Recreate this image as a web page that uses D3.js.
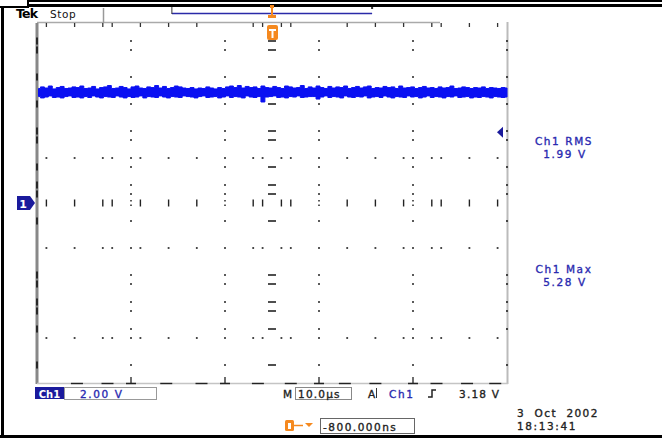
<!DOCTYPE html>
<html><head><meta charset="utf-8">
<script src="https://cdn.jsdelivr.net/npm/d3@7"></script>
<style>
html,body{margin:0;padding:0;background:#fff;}
svg{display:block;}
text{font-family:"DejaVu Sans",sans-serif;}
</style></head>
<body>
<script>
// ---- data ----
const voltsPerDiv = 2.0;
const timePerDiv = "10.0\u00b5s";
const traceTop = [
5.09,5.16,5.11,5.2,5.07,5.13,5.18,5.09,5.11,5.16,
5.13,5.2,5.09,5.11,5.18,5.07,5.13,5.16,5.22,5.09,
5.11,5.18,5.13,5.07,5.16,5.2,5.11,5.09,5.16,5.13,
5.22,5.11,5.18,5.09,5.13,5.2,5.16,5.11,5.09,5.13,
5.07,5.11,5.09,5.16,5.11,5.07,5.13,5.09,5.16,5.2,
5.13,5.22,5.11,5.18,5.13,5.16,5.09,5.2,5.13,5.11,
5.18,5.13,5.09,5.2,5.16,5.11,5.13,5.22,5.09,5.16,
5.11,5.2,5.13,5.09,5.18,5.11,5.16,5.13,5.2,5.09,
5.13,5.18,5.11,5.16,5.2,5.09,5.13,5.11,5.18,5.13,
5.16,5.09,5.2,5.11,5.13,5.16,5.09,5.13,5.18,5.11,
5.13,5.09,5.16,5.11,5.13,5.2,5.09,5.11,5.16,5.13,
5.09,5.13,5.11,5.16,5.09,5.13,5.11,5.09,5.13,5.11];
const traceBottom = [
4.73,4.67,4.71,4.76,4.69,4.71,4.67,4.73,4.76,4.69,
4.71,4.67,4.73,4.69,4.76,4.71,4.67,4.73,4.71,4.69,
4.76,4.71,4.67,4.73,4.69,4.71,4.76,4.67,4.73,4.71,
4.69,4.76,4.71,4.67,4.73,4.71,4.69,4.76,4.73,4.71,
4.67,4.73,4.76,4.69,4.71,4.73,4.67,4.71,4.76,4.69,
4.73,4.71,4.67,4.76,4.71,4.69,4.73,4.49,4.71,4.73,
4.76,4.69,4.71,4.67,4.73,4.71,4.76,4.69,4.71,4.73,
4.73,4.62,4.71,4.76,4.69,4.73,4.71,4.67,4.76,4.71,
4.69,4.73,4.71,4.76,4.67,4.71,4.73,4.69,4.76,4.71,
4.67,4.73,4.71,4.69,4.76,4.71,4.73,4.67,4.71,4.76,
4.69,4.73,4.71,4.67,4.73,4.71,4.76,4.69,4.71,4.73,
4.67,4.71,4.69,4.73,4.71,4.67,4.73,4.71,4.69,4.71];
// graticule marks visible in the (down-sampled) screen, in 1/5-division steps
const visibleMinorX = [1,4,7,8,11,14,17,23,24,26,27,33,36,39,42,43,46,49];
const visibleMinorY = [2,3,6,9,12,13,16,18,19,22,28,29,31,32,34,38];
const dottedColumns = [2,4,6,8];
const dottedRows = [3,5,7];
const bottomDashes = [0.85,1.5,2.75,3.5,4.7,5.4,6.55,7.2,8.5,9.15,9.75];
const bottomTicks = [2,4,6,8];
const measurements = [
  {label:"Ch1 RMS", value:"1.99 V"},
  {label:"Ch1 Max", value:"5.28 V"}
];
const headerText = {brand:"Tek", state:"Stop"};
const chLabel = "Ch1", chScale = "2.00 V";
const trigText = {src:"Ch1", level:"3.18 V"};
const delayText = "-800.000ns";
const dateText = "3  Oct  2002", timeText = "18:13:41";

// ---- layout ----
const W = 662, H = 438;
const x = d3.scaleLinear().domain([0,10]).range([37,507]);
const y = d3.scaleLinear().domain([-4*voltsPerDiv, 4*voltsPerDiv]).range([383,23]);
const yDiv = d3.scaleLinear().domain([0,8]).range([23,383]);
const mx = i => x(i/5), my = i => yDiv(i/5);

const svg = d3.select("body").append("svg").attr("width",W).attr("height",H);

// outer screenshot frame
svg.append("rect").attr("x",28).attr("y",0).attr("width",W-28).attr("height",2).attr("fill","#000");
svg.append("rect").attr("x",28).attr("y",4).attr("width",W-28).attr("height",3).attr("fill","#000");
svg.append("rect").attr("x",27).attr("y",0).attr("width",2).attr("height",8).attr("fill","#000");
svg.append("rect").attr("x",0).attr("y",6).attr("width",29).attr("height",2).attr("fill","#000");
svg.append("rect").attr("x",1).attr("y",6).attr("width",3).attr("height",H-6).attr("fill","#000");
svg.append("rect").attr("x",0).attr("y",435).attr("width",W).attr("height",3).attr("fill","#000");

// header
svg.append("line").attr("x1",37).attr("x2",440).attr("y1",22.5).attr("y2",22.5).attr("stroke","#aaa").attr("stroke-width",1.5);
svg.append("line").attr("x1",103.5).attr("x2",103.5).attr("y1",8).attr("y2",23).attr("stroke","#999").attr("stroke-width",1.5);
svg.append("text").attr("x",16).attr("y",18).attr("font-size",12.5).attr("font-weight","bold").attr("letter-spacing",-0.8).text(headerText.brand);
svg.append("text").attr("x",50).attr("y",18).attr("font-size",10.5).attr("letter-spacing",0.6).attr("fill","#111").text(headerText.state);
// record bar
svg.append("line").attr("x1",x(2.87)).attr("x2",x(7.13)).attr("y1",13.5).attr("y2",13.5).attr("stroke","#2a2aa8").attr("stroke-width",1.6);
svg.append("line").attr("x1",x(2.87)).attr("x2",x(2.87)).attr("y1",7).attr("y2",14).attr("stroke","#333").attr("stroke-width",1);
svg.append("rect").attr("x",x(7.13)-1).attr("y",7).attr("width",2).attr("height",2).attr("fill","#333");
// trigger position markers (orange)
const orange = "#f5891f";
const tx = x(5);
svg.append("path").attr("d",`M${tx-2},5 h4 v3 h-1 v10 h-2 v-10 h-1 z`).attr("fill",orange);
svg.append("path").attr("d",`M${tx-4},15 h8 v3 h-8 z`).attr("fill",orange);
svg.append("rect").attr("x",tx-5).attr("y",25).attr("width",11).attr("height",15).attr("rx",2).attr("fill",orange);
svg.append("path").attr("d",`M${tx-3},29 h7 v2 h-2.5 v7 h-2 v-7 h-2.5 z`).attr("fill","#fff");

// graticule frame
const g = svg.append("g");
g.append("line").attr("x1",37).attr("x2",37).attr("y1",23).attr("y2",384).attr("stroke","#888").attr("stroke-width",3);
g.append("line").attr("x1",507.5).attr("x2",507.5).attr("y1",22).attr("y2",384).attr("stroke","#bbb").attr("stroke-width",2);
g.append("line").attr("x1",37).attr("x2",508).attr("y1",383.5).attr("y2",383.5).attr("stroke","#c4c4c4").attr("stroke-width",1.5);

// left edge dashes
g.selectAll(".ld").data(visibleMinorY).join("line")
  .attr("x1",37).attr("x2",37).attr("y1",d=>my(d)-3.5).attr("y2",d=>my(d)+3.5)
  .attr("stroke","#111").attr("stroke-width",1.6);
// top edge ticks
g.selectAll(".tt").data(visibleMinorX).join("line")
  .attr("x1",d=>mx(d)).attr("x2",d=>mx(d)).attr("y1",23).attr("y2",27)
  .attr("stroke","#333").attr("stroke-width",1.3);
// bottom edge dashes and ticks
g.selectAll(".bd").data(bottomDashes).join("line")
  .attr("x1",d=>x(d)-6).attr("x2",d=>x(d)+6).attr("y1",383.5).attr("y2",383.5)
  .attr("stroke","#222").attr("stroke-width",1.4);
g.selectAll(".bt").data(bottomTicks).join("path")
  .attr("d",d=>`M${x(d)-5},383.5 H${x(d)+5} M${x(d)},377 V383.5`)
  .attr("stroke","#222").attr("stroke-width",1.3).attr("fill","none");
// right edge dots
g.selectAll(".rd").data(visibleMinorY).join("rect")
  .attr("x",506).attr("y",d=>my(d)-1).attr("width",2).attr("height",2).attr("fill","#444");

// dotted columns
dottedColumns.forEach(c=>{
  g.selectAll(null).data(visibleMinorY).join("rect")
    .attr("x",x(c)-0.9).attr("y",d=>my(d)-0.9).attr("width",1.8).attr("height",1.8).attr("fill","#333");
  g.selectAll(null).data(dottedRows).join("rect")
    .attr("x",x(c)-0.9).attr("y",d=>yDiv(d)-0.9).attr("width",1.8).attr("height",1.8).attr("fill","#333");
});
// dotted rows
dottedRows.forEach(r=>{
  g.selectAll(null).data(visibleMinorX).join("rect")
    .attr("x",d=>mx(d)-0.9).attr("y",yDiv(r)-0.9).attr("width",1.8).attr("height",1.8).attr("fill","#333");
});
// center horizontal axis ticks
g.selectAll(".ch").data(visibleMinorX).join("line")
  .attr("x1",d=>mx(d)).attr("x2",d=>mx(d)).attr("y1",y(0)-3.5).attr("y2",y(0)+3.5)
  .attr("stroke","#222").attr("stroke-width",1.4);
g.selectAll(".chd").data(dottedColumns).join("path")
  .attr("d",d=>`M${x(d)},${y(0)-3}v1.6M${x(d)},${y(0)+1.5}v1.6`)
  .attr("stroke","#333").attr("stroke-width",1.6);
// center vertical axis dashes
g.selectAll(".cv").data(visibleMinorY).join("line")
  .attr("x1",x(5)-4).attr("x2",x(5)+4).attr("y1",d=>my(d)).attr("y2",d=>my(d))
  .attr("stroke","#222").attr("stroke-width",1.6);

// trace band
const n = traceTop.length;
const tX = d3.scaleLinear().domain([0,n-1]).range([x(0)+1.5,x(10)]);
const area = d3.area().x((d,i)=>tX(i)).y0((d,i)=>y(traceBottom[i])).y1(d=>y(d)).curve(d3.curveStep);
svg.append("path").datum(traceTop).attr("d",area).attr("fill","#0a10f2").attr("stroke","#0a10f2").attr("stroke-width",1);

// ground marker
svg.append("path").attr("d",`M17,${y(0)-7} h13 l5,7 l-5,7 h-13 z`).attr("fill","#1a1a9c");
svg.append("text").attr("x",23).attr("y",y(0)+4.5).attr("text-anchor","middle").attr("font-size",11).attr("font-weight","bold").attr("fill","#fff").text("1");

// measurement marker
svg.append("path").attr("d",`M497,${y(3.15)} l6,-5.5 v11 z`).attr("fill","#1a1a9c");

// measurements
const txt = (sel,col)=>sel.attr("font-size",10.5).attr("letter-spacing",1.6).attr("fill",col).attr("stroke",col).attr("stroke-width",0.35);
const mY = [145, 273];
const blue = "#2a2ab0", dark = "#222";
measurements.forEach((m,i)=>{
  txt(svg.append("text"),blue).attr("x",564).attr("y",mY[i]).attr("text-anchor","middle").text(m.label);
  txt(svg.append("text"),blue).attr("x",565).attr("y",mY[i]+13).attr("text-anchor","middle").text(m.value);
});

// bottom status
svg.append("rect").attr("x",35).attr("y",387).attr("width",29).attr("height",12).attr("fill","#1a1a9c");
svg.append("text").attr("x",49.5).attr("y",397.5).attr("text-anchor","middle").attr("font-size",10).attr("font-weight","bold").attr("fill","#fff").text(chLabel);
svg.append("rect").attr("x",64.5).attr("y",387.5).attr("width",92).attr("height",12).attr("fill","none").attr("stroke","#999").attr("stroke-width",1);
txt(svg.append("text"),blue).attr("x",80).attr("y",397.5).text(chScale);

txt(svg.append("text"),dark).attr("x",283).attr("y",397.5).attr("letter-spacing",0).text("M");
svg.append("rect").attr("x",295.5).attr("y",387.5).attr("width",56).attr("height",12).attr("fill","none").attr("stroke","#888").attr("stroke-width",1);
txt(svg.append("text"),dark).attr("x",298).attr("y",397.5).attr("letter-spacing",1.2).text(timePerDiv);
txt(svg.append("text"),dark).attr("x",368).attr("y",397.5).text("A");
svg.append("line").attr("x1",376.5).attr("x2",376.5).attr("y1",388).attr("y2",398).attr("stroke","#333").attr("stroke-width",1);
txt(svg.append("text"),blue).attr("x",389).attr("y",397.5).text(trigText.src);
svg.append("path").attr("d","M428,397 h4 v-7 h4").attr("fill","none").attr("stroke","#222").attr("stroke-width",1.5);
txt(svg.append("text"),dark).attr("x",459).attr("y",397.5).attr("letter-spacing",1.2).text(trigText.level);

// delay
svg.append("rect").attr("x",285).attr("y",420).attr("width",9).attr("height",11).attr("rx",1.5).attr("fill",orange);
svg.append("path").attr("d","M288,423 h3 v6 h-3 z").attr("fill","#fff");
svg.append("line").attr("x1",294).attr("x2",303).attr("y1",425.5).attr("y2",425.5).attr("stroke",orange).attr("stroke-width",1.5);
svg.append("path").attr("d","M305,423 h8 l-4,4 z").attr("fill",orange);
svg.append("rect").attr("x",320.5).attr("y",418.5).attr("width",94).attr("height",15).attr("fill","none").attr("stroke","#666").attr("stroke-width",1);
txt(svg.append("text"),dark).attr("x",323).attr("y",430.5).attr("letter-spacing",1.5).text(delayText);

// date/time
txt(svg.append("text"),dark).attr("x",517).attr("y",417).attr("letter-spacing",1.4).style("white-space","pre").text(dateText);
txt(svg.append("text"),dark).attr("x",517).attr("y",430).attr("letter-spacing",1.6).text(timeText);
</script>
</body></html>
